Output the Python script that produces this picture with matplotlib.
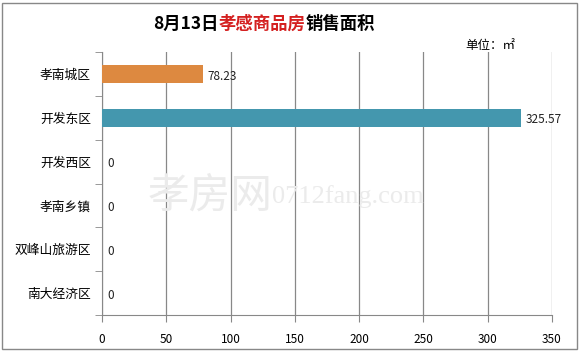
import matplotlib
matplotlib.use('Agg')
import matplotlib.pyplot as plt
from matplotlib.patches import Rectangle

plt.rcParams['font.family'] = ['Noto Sans CJK SC', 'DejaVu Sans']

districts = ['孝南城区', '开发东区', '开发西区', '孝南乡镇', '双峰山旅游区', '南大经济区']
areas = [78.23, 325.57, 0, 0, 0, 0]
bar_colors = ['#DD8940', '#4497AE', '#4497AE', '#4497AE', '#4497AE', '#4497AE']
value_labels = ['78.23', '325.57', '0', '0', '0', '0']
xticks = [0, 50, 100, 150, 200, 250, 300, 350]

fig = plt.figure(figsize=(5.79, 3.51), dpi=100)
ax = fig.add_axes([102 / 579, 1 - 315 / 351, 450 / 579, 263 / 351])

pos = list(range(len(districts)))
ax.barh(pos, areas, height=0.42, color=bar_colors, zorder=3)
for p, v, lab in zip(pos, areas, value_labels):
    ax.text(v + 4, p + 0.05, lab, va='center', ha='left', fontsize=8.5,
            color='#222222', zorder=4)

ax.set_xlim(0, 350)
ax.set_ylim(len(districts) - 0.5, -0.5)
ax.set_xticks(xticks)
ax.set_yticks(pos)
ax.set_yticklabels(districts, fontsize=9.2)
ax.set_yticks([p - 0.5 for p in pos] + [len(districts) - 0.5], minor=True)
ax.tick_params(axis='y', which='major', length=0, pad=8)
ax.tick_params(axis='y', which='minor', length=5, color='#888888', direction='out')
ax.tick_params(axis='x', length=5, color='#888888', labelsize=8.5, pad=8)
ax.grid(axis='x', color='#888888', linewidth=0.9, zorder=0)
for s in ['top', 'right']:
    ax.spines[s].set_visible(False)
for s in ['left', 'bottom']:
    ax.spines[s].set_color('#888888')

# watermark
fig.text(210 / 579, 0.44, '孝房网', fontsize=30, color='#EBEBEB', ha='center', va='center', zorder=1)
fig.text(272 / 579, 0.44, '0712fang.com', fontsize=19, color='#EBEBEB', ha='left', va='center',
         family='Liberation Serif', zorder=1)

# title in three colour parts
t1 = fig.text(153 / 579, 1 - 24 / 351, '8月13日', fontsize=12.5, fontweight='bold',
              ha='left', va='center')
t2 = fig.text(0, 0, '孝感商品房', fontsize=12.5, fontweight='bold', color='#D42020',
              ha='left', va='center', transform=None)
t3 = fig.text(0, 0, '销售面积', fontsize=12.5, fontweight='bold', ha='left', va='center')
for a, b in [(t1, t2), (t2, t3)]:
    fig.canvas.draw()
    bb = a.get_window_extent()
    b.set_transform(plt.matplotlib.transforms.IdentityTransform())
    b.set_position((bb.x1, (bb.y0 + bb.y1) / 2))
fig.text(465 / 579, 1 - 45 / 351, '单位：㎡', fontsize=9, ha='left', va='center')

fig.patches.append(Rectangle((2 / 579, 2 / 351), 575 / 579, 346 / 351, transform=fig.transFigure,
                             fill=False, edgecolor='#888888', linewidth=1))

fig.savefig('out.png', dpi=100)
